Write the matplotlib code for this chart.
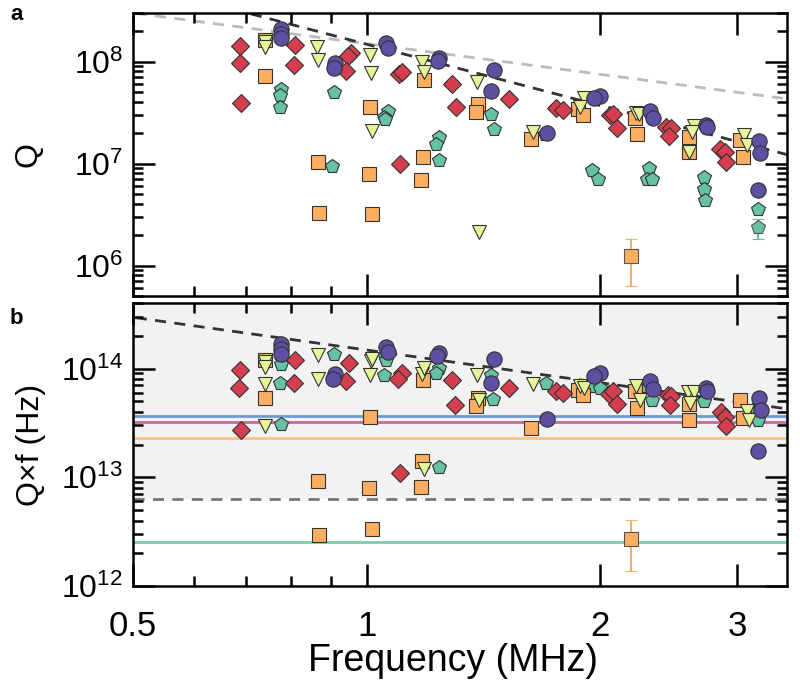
import numpy as np
import matplotlib
matplotlib.use('Agg')
import matplotlib.pyplot as plt
from matplotlib import ticker

# Global Setting
plt.rcParams['font.family'] = ['Liberation Sans', 'DejaVu Sans']
plt.rcParams['mathtext.fontset'] = 'custom'
plt.rcParams['mathtext.rm'] = 'Liberation Sans'
plt.rcParams['mathtext.default'] = 'regular'
plt.rcParams['font.size'] = 20

## Data
# panel a : Q vs frequency (MHz)
red_f_a = [0.688, 0.687, 0.690, 0.809, 0.806, 0.955, 0.947, 0.940, 1.101, 1.111, 1.105, 1.290,
           1.303, 1.527, 1.753, 1.789, 2.055, 2.074, 2.101, 2.432, 2.464, 2.452, 2.850, 2.893, 2.901]
red_q_a = [1.43e8, 9.64e7, 3.95e7, 1.47e8, 9.23e7, 1.22e8, 1.14e8, 8.16e7, 7.57e7, 7.93e7, 9.86e6, 6.04e7,
           3.56e7, 4.27e7, 3.53e7, 3.35e7, 2.99e7, 3.06e7, 2.24e7, 2.30e7, 2.24e7, 1.87e7, 1.38e7, 1.30e7, 1.04e7]

blue_f_a = [0.775, 0.775, 0.777, 0.911, 0.908, 1.059, 1.067, 1.240, 1.234, 1.457, 1.447, 1.706,
            1.995, 1.962, 2.320, 2.338, 2.734, 2.745, 3.198, 3.210, 3.188]
blue_q_a = [2.08e8, 1.87e8, 1.70e8, 9.78e7, 8.73e7, 1.52e8, 1.36e8, 1.08e8, 1.02e8, 8.28e7, 5.12e7, 2.00e7,
            4.60e7, 4.37e7, 3.30e7, 2.77e7, 2.39e7, 2.26e7, 1.67e7, 1.27e7, 5.47e6]

yel_f_a = [0.740, 0.740, 0.864, 0.867, 1.010, 1.013, 1.017, 1.178, 1.186, 1.386, 1.394, 1.636,
           1.908, 1.880, 2.226, 2.243, 2.638, 2.628, 2.601, 3.065, 3.091]
yel_q_a = [1.57e8, 1.40e8, 1.39e8, 1.04e8, 1.16e8, 7.80e7, 2.10e7, 1.00e8, 7.98e7, 6.28e7, 2.12e6, 2.05e7,
           4.37e7, 3.59e7, 3.11e7, 3.04e7, 2.32e7, 2.05e7, 1.29e7, 1.90e7, 1.52e7]

org_f_a = [0.740, 0.740, 0.865, 0.868, 1.010, 1.007, 1.017, 1.184, 1.183, 1.175, 1.390, 1.383,
           1.629, 1.871, 1.899, 2.214, 2.230, 2.601, 2.601, 3.024, 3.049]
org_q_a = [1.62e8, 7.23e7, 1.04e7, 3.30e6, 3.56e7, 7.87e6, 3.23e6, 6.61e7, 1.15e7, 6.87e6, 3.81e7, 3.22e7,
           1.73e7, 3.41e7, 2.99e7, 2.77e7, 1.95e7, 1.81e7, 1.30e7, 1.70e7, 1.16e7]
org_err_a = [2.193, 1.23e6, 6.24e5, 1.83e6]   # f, Q, low, high

grn_f_a = [0.775, 0.773, 0.773, 0.908, 0.903, 1.064, 1.053, 1.056, 1.238, 1.228, 1.240, 1.446,
           1.457, 1.699, 1.953, 1.986, 2.310, 2.296, 2.331, 2.718, 2.718, 2.729, 3.188]
grn_q_a = [5.36e7, 4.71e7, 3.61e7, 5.07e7, 9.42e6, 3.27e7, 2.88e7, 2.73e7, 1.83e7, 1.54e7, 1.08e7, 3.06e7,
           2.19e7, 1.95e7, 8.73e6, 6.98e6, 8.95e6, 7.13e6, 6.98e6, 7.40e6, 5.69e6, 4.43e6, 3.62e6]
grn_err_a = [3.193, 2.39e6, 1.84e6, 2.88e6]

# panel b : Q x f (Hz) vs frequency (MHz)
red_f_b = [0.688, 0.686, 0.690, 0.809, 0.806, 0.949, 0.940, 1.110, 1.096, 1.105, 1.290, 1.301,
           1.527, 1.753, 1.789, 2.051, 2.074, 2.101, 2.444, 2.469, 2.456, 2.864, 2.893, 2.901]
red_qf_b = [9.73e13, 6.61e13, 2.73e13, 1.19e14, 7.35e13, 1.12e14, 7.71e13, 9.08e13, 8.04e13, 1.09e13, 7.87e13, 4.63e13,
            6.61e13, 6.15e13, 5.94e13, 5.82e13, 6.24e13, 4.71e13, 5.65e13, 5.53e13, 4.57e13, 3.97e13, 3.62e13, 2.99e13]

blue_f_b = [0.775, 0.775, 0.777, 0.911, 0.906, 1.059, 1.067, 1.240, 1.232, 1.457, 1.447, 1.708,
            1.995, 1.962, 2.320, 2.338, 2.734, 2.745, 3.200, 3.216, 3.188]
blue_qf_b = [1.68e14, 1.51e14, 1.36e14, 8.89e13, 8.04e13, 1.59e14, 1.43e14, 1.39e14, 1.29e14, 1.23e14, 7.35e13, 3.45e13,
             9.19e13, 8.57e13, 7.60e13, 6.50e13, 6.61e13, 6.15e13, 5.41e13, 4.15e13, 1.75e13]

yel_f_b = [0.740, 0.740, 0.740, 0.741, 0.867, 0.865, 1.013, 1.017, 1.010, 1.178, 1.186, 1.386,
           1.397, 1.636, 1.880, 1.908, 1.184, 2.226, 2.252, 2.594, 2.638, 2.612, 3.086, 3.110]
yel_qf_b = [1.16e14, 1.04e14, 7.19e13, 2.99e13, 1.32e14, 8.04e13, 1.18e14, 1.23e14, 8.63e13, 8.89e13, 1.01e14, 8.63e13,
            5.15e13, 7.19e13, 6.84e13, 6.61e13, 1.20e13, 6.84e13, 5.15e13, 6.07e13, 6.07e13, 4.81e13, 4.08e13, 3.37e13]

org_f_b = [0.740, 0.740, 0.865, 0.868, 1.010, 1.007, 1.017, 1.180, 1.175, 1.183, 1.390, 1.383,
           1.629, 1.871, 1.899, 2.214, 2.230, 2.601, 2.601, 3.030, 3.054]
org_qf_b = [1.20e14, 5.41e13, 9.15e12, 2.92e12, 3.62e13, 8.05e12, 3.34e12, 1.40e13, 8.22e12, 7.87e13, 5.35e13, 4.48e13,
            2.83e13, 6.37e13, 5.73e13, 6.24e13, 4.32e13, 4.71e13, 3.37e13, 5.15e13, 3.50e13]
org_err_b = [2.193, 2.72e12, 1.38e12, 4.01e12]

grn_f_b = [0.775, 0.773, 0.776, 0.908, 1.056, 1.059, 1.053, 1.238, 1.228, 1.240, 1.447, 1.453,
           1.703, 1.953, 1.995, 2.293, 2.331, 2.718, 3.184, 3.193]
grn_qf_b = [1.10e14, 7.43e13, 3.08e13, 1.36e14, 1.29e14, 1.20e14, 8.75e13, 1.01e14, 9.08e13, 1.23e13, 8.75e13, 5.24e13,
            7.35e13, 6.84e13, 6.61e13, 6.84e13, 5.15e13, 5.05e13, 4.08e13, 3.37e13]

# reference lines
q_f2_coef = 1.48e8        # Q = c / f^2  (f in MHz)
q_f1_coef = 1.5e8         # Q = c / f
hlines_b = [3.67e13, 3.19e13, 2.31e13, 2.55e12]
hline_colors = ['#6b9bd1', '#c7679a', '#fcc48a', '#78cfa0']
shade_level = 6.3e12

x_ticks = [0.5, 1, 2, 3]
x_ticklabels = ['0.5', '1', '2', '3']
x_minor = [0.6, 0.7, 0.8, 0.9]

## Plot Statement
fig = plt.figure(figsize=(8, 6.81), dpi=100)
ax_a = fig.add_axes([0.166, 0.565, 0.818, 0.416])
ax_b = fig.add_axes([0.166, 0.1395, 0.818, 0.4155])

styles = [  # key, marker, color, size
    ('grn', 'p', '#66c2a5', 10.5),
    ('org', 's', '#fdae61', 9.5),
    ('yel', 'v', '#e6f598', 10.5),
    ('red', 'D', '#d53e4f', 9.5),
    ('blue', 'o', '#5e4fa2', 11),
]
data_a = {'grn': (grn_f_a, grn_q_a), 'org': (org_f_a, org_q_a), 'yel': (yel_f_a, yel_q_a),
          'red': (red_f_a, red_q_a), 'blue': (blue_f_a, blue_q_a)}
data_b = {'grn': (grn_f_b, grn_qf_b), 'org': (org_f_b, org_qf_b), 'yel': (yel_f_b, yel_qf_b),
          'red': (red_f_b, red_qf_b), 'blue': (blue_f_b, blue_qf_b)}

fline = np.logspace(np.log10(0.45), np.log10(3.6), 100)

# panel a
ax_a.plot(fline, q_f1_coef / fline, ls=(0, (4, 3)), color='#bbbbbb', lw=2, zorder=1)
ax_a.plot(fline, q_f2_coef / fline**2, ls=(0, (4, 3)), color='#333333', lw=2, zorder=1)
ax_a.errorbar(org_err_a[0], org_err_a[1],
              yerr=[[org_err_a[1] - org_err_a[2]], [org_err_a[3] - org_err_a[1]]],
              fmt='s', ms=9.5, mfc='#fdae61', mec='#555555', mew=0.8, ecolor='#fdae61',
              elinewidth=1.5, capsize=4, capthick=1.5, zorder=3)
ax_a.errorbar(grn_err_a[0], grn_err_a[1],
              yerr=[[grn_err_a[1] - grn_err_a[2]], [grn_err_a[3] - grn_err_a[1]]],
              fmt='p', ms=10.5, mfc='#66c2a5', mec='#555555', mew=0.8, ecolor='#66c2a5',
              elinewidth=1.5, capsize=4, capthick=1.5, zorder=3)

# panel b
ax_b.axhspan(shade_level, 1e16, color='#f2f2f2', zorder=0, lw=0)
ax_b.axhline(shade_level, ls=(0, (4, 3)), color='#777777', lw=2, zorder=1)
for y, c in zip(hlines_b, hline_colors):
    ax_b.axhline(y, color=c, lw=2, zorder=1)
ax_b.plot(fline, q_f2_coef * 1e6 / fline, ls=(0, (4, 3)), color='#333333', lw=2, zorder=1)
ax_b.errorbar(org_err_b[0], org_err_b[1],
              yerr=[[org_err_b[1] - org_err_b[2]], [org_err_b[3] - org_err_b[1]]],
              fmt='s', ms=9.5, mfc='#fdae61', mec='#555555', mew=0.8, ecolor='#fdae61',
              elinewidth=1.5, capsize=4, capthick=1.5, zorder=3)

for key, marker, color, ms in styles:
    for ax, data in ((ax_a, data_a), (ax_b, data_b)):
        f, q = data[key]
        ax.plot(f, q, ls='none', marker=marker, ms=ms, mfc=color, mec='#333333', mew=0.8, zorder=3)

for ax in (ax_a, ax_b):
    ax.set_xscale('log')
    ax.set_yscale('log')
    ax.set_xlim(0.5, 3.48)
    ax.xaxis.set_major_locator(ticker.FixedLocator(x_ticks))
    ax.xaxis.set_minor_locator(ticker.FixedLocator(x_minor))
    ax.yaxis.set_major_locator(ticker.LogLocator(base=10, numticks=20))
    ax.yaxis.set_minor_locator(ticker.LogLocator(base=10, subs=np.arange(2, 10), numticks=20))
    ax.yaxis.set_major_formatter(ticker.FuncFormatter(lambda v, p: r'$10^{%d}$' % round(np.log10(v))))
    ax.yaxis.set_minor_formatter(ticker.NullFormatter())
    ax.tick_params(which='both', direction='in', top=True, right=True, width=1.8)
    ax.tick_params(which='major', length=16)
    ax.tick_params(which='minor', length=7)
    ax.tick_params(axis='y', pad=7, labelsize=23)
    ax.tick_params(axis='x', pad=17, labelsize=25)
    for s in ax.spines.values():
        s.set_linewidth(1.8)

ax_a.set_ylim(5e5, 3e8)
ax_b.set_ylim(1e12, 4e14)
ax_a.xaxis.set_major_formatter(ticker.NullFormatter())
ax_b.xaxis.set_major_formatter(ticker.FixedFormatter(x_ticklabels))
ax_a.xaxis.set_minor_formatter(ticker.NullFormatter())
ax_b.xaxis.set_minor_formatter(ticker.NullFormatter())

ax_a.set_ylabel('Q', fontsize=23)
ax_a.yaxis.set_label_coords(-0.137, 0.5)
ax_b.set_ylabel('Q×f (Hz)', fontsize=23)
ax_b.yaxis.set_label_coords(-0.133, 0.5)
ax_b.set_xlabel('Frequency (MHz)', fontsize=27)
ax_b.xaxis.set_label_coords(0.49, -0.2)

fig.text(0.021, 0.978, 'a', fontsize=16, fontweight='bold', ha='center', va='center')
fig.text(0.021, 0.533, 'b', fontsize=16, fontweight='bold', ha='center', va='center')

## Output
fig.savefig('out.png', dpi=100)
